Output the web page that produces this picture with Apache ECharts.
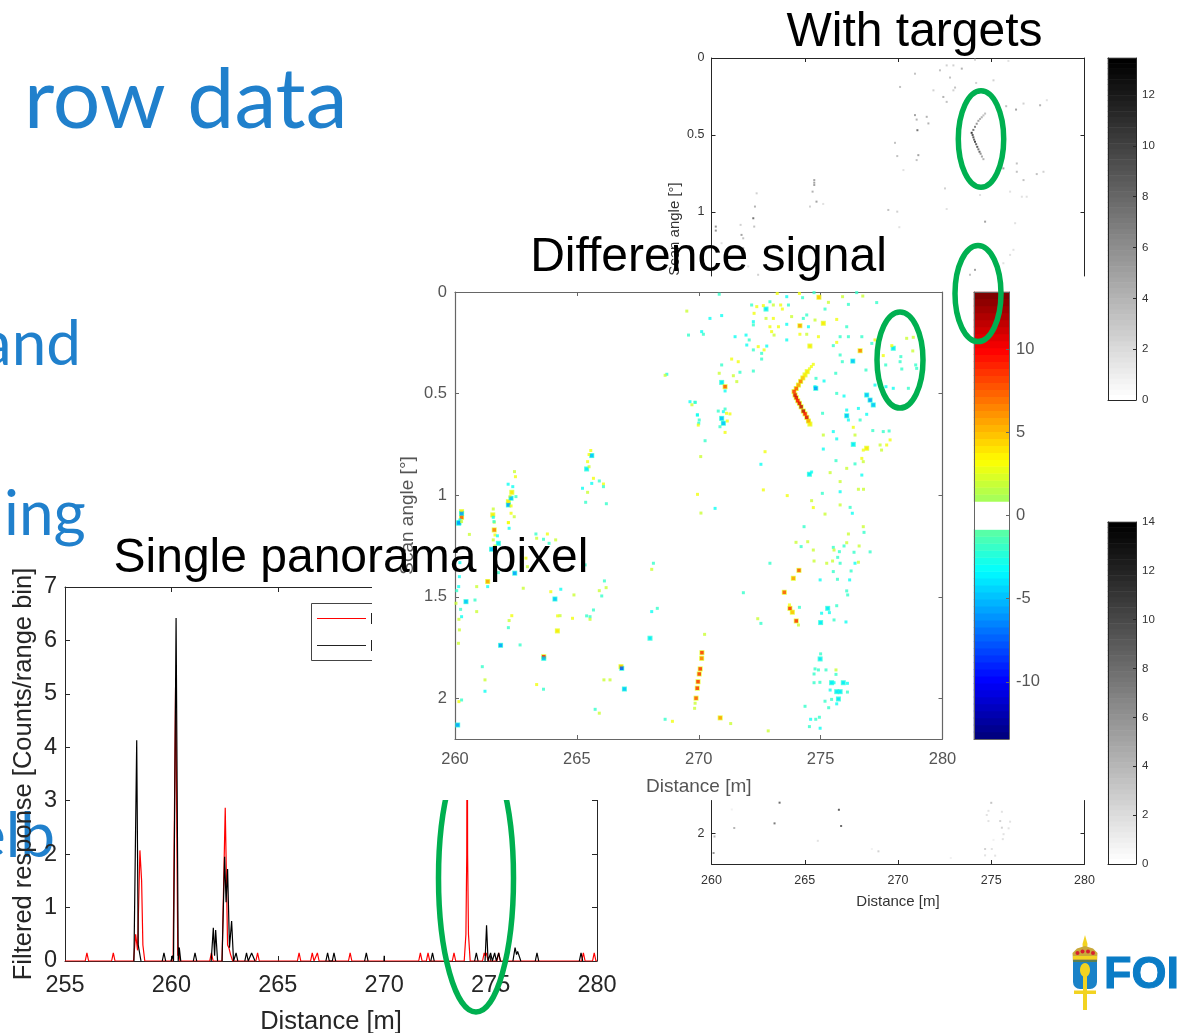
<!DOCTYPE html>
<html>
<head>
<meta charset="utf-8">
<style>html,body{margin:0;padding:0;background:#fff}#c{width:1181px;height:1033px}</style>
<script src="https://cdn.jsdelivr.net/npm/echarts@6/dist/echarts.min.js"></script>
</head>
<body>
<div id="c"></div>
<script>
// ---------- Data ----------
const lineTicksX = [255,260,265,270,275,280];
const panelDistanceRange = [260,280];
const diffAngleTicks = [0,0.5,1,1.5,2];
const withAngleTicks = [0,0.5,1];
const withoutAngleTicks = [2];
const diffBarTicks = [-10,-5,0,5,10];
const withBarTicks = [0,2,4,6,8,10,12];
const withoutBarTicks = [0,2,4,6,8,10,12,14];

const lineRed = [[255,0],[255.95,0],[256.03,.15],[256.11,0],[257.19,0],[257.27,.15],[257.35,0],[258.22,0],[258.32,.5],[258.41,.2],[258.46,.2],[258.52,2.07],[258.6,1.5],[258.66,.3],[258.75,0],[260.08,0],[260.2,5.3],[260.3,.1],[260.34,.25],[260.4,0],[261.8,0],[261.88,.15],[261.96,0],[262.38,0],[262.53,2.87],[262.58,2.87],[262.64,.3],[262.7,.25],[262.78,.12],[262.88,0],[263.97,0],[264.05,.15],[264.13,0],[265.92,0],[266,.15],[266.08,0],[266.54,0],[266.62,.15],[266.7,0],[266.78,0],[266.86,.15],[266.94,0],[268.32,0],[268.4,.15],[268.48,0],[271.62,0],[271.7,.15],[271.78,0],[271.98,0],[272.06,.15],[272.14,0],[273.2,0],[273.28,.15],[273.36,0],[273.76,0],[273.84,.5],[273.88,2],[273.9,6],[273.92,2],[273.96,.5],[274.04,0],[274.62,0],[274.7,.15],[274.75,.1],[274.8,.15],[274.88,0],[275.3,0],[275.38,.15],[275.46,0],[279.28,0],[279.36,.15],[279.44,0],[279.79,0],[279.87,.15],[279.95,0],[280,0]];
const lineBlack = [[258.24,0],[258.37,4.13],[258.44,.3],[258.5,.28],[258.57,0],[255,null],[259.57,0],[259.65,.15],[259.73,0],[255,null],[259.98,0],[260.05,.1],[260.1,0],[260.22,6.42],[260.32,0],[260.37,.25],[260.44,0],[255,null],[261.03,0],[261.11,.15],[261.19,0],[255,null],[261.87,0],[261.97,.62],[262.03,.1],[262.08,.58],[262.17,0],[255,null],[262.38,0],[262.5,1.95],[262.57,1.1],[262.64,1.72],[262.73,.25],[262.83,.75],[262.92,0],[262.96,0],[263.04,.15],[263.12,0],[255,null],[263.45,0],[263.53,.15],[263.61,0],[263.69,0],[263.77,.15],[263.85,.13],[263.93,0],[255,null],[267.26,0],[267.34,.15],[267.42,0],[267.56,0],[267.64,.15],[267.72,0],[255,null],[269.08,0],[269.16,.15],[269.24,0],[255,null],[269.99,0],[270,.1],[270.01,0],[255,null],[272.19,0],[272.27,.15],[272.35,0],[255,null],[274.25,0],[274.33,.15],[274.41,0],[255,null],[274.74,0],[274.81,.67],[274.88,0],[274.92,0],[275,.15],[275.08,0],[275.11,0],[275.19,.15],[275.27,0],[275.3,0],[275.38,.15],[275.46,0],[255,null],[276.05,0],[276.15,.25],[276.22,.12],[276.27,.18],[276.35,.15],[276.42,0],[255,null],[277.1,0],[277.18,.15],[277.26,0],[255,null],[279.17,0],[279.25,.15],[279.33,0]];

const diffPoints = [
[269.51,.094,2],[269.58,.212,-2],[268.69,.405,-2.5],[268.62,.41,2],[269.64,.54,-3],[269.85,.543,-2.5],[269.95,.605,-2.5],[270,.646,-2.5],[269.72,.555,2],
[265.57,.78,3],[265.5,.8,3],[265.61,.805,-5],[265.44,.835,3],[265.5,.86,2],[265.4,.871,-4],[265.23,.966,-3],[265.44,.986,2],[265.68,.917,3],[265.61,.942,-3],[265.92,.93,-2],[266.09,.945,3],[266.09,.958,-2],[265.36,1.035,-2],[266.21,1.042,-2],
[262.44,.884,2],[262.48,.909,3],[262.18,.946,-3],[262.37,.958,-3],[262.33,.986,4],[262.26,1.007,3],[262.5,1.007,-2],[262.19,1.032,4],[262.3,1.015,-5],[262.19,1.048,-6],[262.3,1.053,3],[262.3,1.089,3],[262.43,1.106,2],[262.19,1.135,3],
[261.57,1.068,2],[261.55,1.097,4],[261.57,1.109,-3],[261.61,1.133,2],[260.27,1.081,4],[260.27,1.109,8],[260.27,1.09,-6],[260.2,1.122,-3],[260.15,1.138,-5],
[260.16,1.135,-6],[260.27,1.13,2],[260.59,1.193,2],[261.6,1.13,-2],[261.61,1.171,7],[261.64,1.196,3],[261.74,1.2,-3],[261.57,1.22,2],[261.78,1.237,-4],[261.5,1.266,-5],[261.64,1.25,2],[262.19,1.135,3],[262.22,1.163,-3],
[262.91,1.31,3],[262.97,1.352,2],[263.32,1.191,-2],[263.79,1.191,3],[263.63,1.217,-2],[263.86,1.237,-2],[264.13,1.22,2],[263.35,1.212,2],[260.2,1.332,-3],[261.78,1.381,-2],[262.45,1.384,-6],[261.34,1.425,6],[261.34,1.45,-3],[260.89,1.45,2],[260.18,1.401,-3],[260.15,1.45,-3],[260.07,1.47,-2],[260.04,1.532,2],[260.45,1.524,-5],[260.82,1.516,-2],[260.23,1.562,-2],[260.89,1.573,2],[260.27,1.598,-3],[260.16,1.611,2],[260.18,1.663,2],[260.14,1.729,2],[262.8,1.458,2],[263.93,1.475,3],[264.34,1.463,-3],[264.1,1.511,-5],[264.88,1.491,2],[265.92,1.47,2],[266.02,1.496,-2],[266.13,1.422,-2],[266.2,1.455,2],[265.68,1.565,-2],[265.54,1.598,-2],[265.4,1.594,-2],[265.54,1.611,2],[264.21,1.594,3],[264.31,1.593,2],[264.82,1.606,3],[262.33,1.593,3],[262.22,1.617,2],[262.19,1.652,-2],[264.2,1.668,4],[261.87,1.739,-6],[262.67,1.737,-2],[263.64,1.795,9],[263.64,1.803,-5],[263.35,1.932,3],[263.63,1.955,-2],[261.12,1.844,-2],[261.23,1.909,2],[261.23,1.965,-3],[260.16,2.016,3],[260.27,2.008,-2],[260.11,2.131,-6],[266.81,1.844,5],[266.84,1.852,-8],[266.95,1.954,-5],[266.11,1.909,2],[266.36,1.909,2],[265.75,2.054,-2],[265.92,2.073,2],[268.07,1.365,2],[268.14,1.335,-2],[268.07,1.573,-3],[268.3,1.557,-2],[268,1.704,-4],[268.62,2.103,-2],[268.92,2.113,3],[265.34,1.343,-2],
[270.13,1.775,9],[270.12,1.803,7],[270.06,1.855,9],[270.02,1.88,9],[269.97,1.918,9],[269.94,1.95,9],[269.89,1.999,8],[269.85,2.024,2],[269.83,2.049,2],[270.24,1.685,2],[270.88,2.096,6],[271.31,2.124,2],[272.85,2.16,2],
[274.11,1.37,8],[273.88,1.409,6],[273.51,1.478,8],[273.74,1.557,9],[273.84,1.576,5],[274,1.619,9],[274.09,1.639,2],[273.72,1.54,3],[271.83,1.48,-2],[272.42,1.608,2],[272.55,1.631,-2],[272.92,1.335,-2],
[274.32,1.155,-2],[273.99,1.232,2],[274.47,1.229,2],[274.2,1.253,-2],[274.7,1.27,2],[274.73,1.324,2],[275.25,1.335,2],[275.49,1.324,2],[275.52,1.257,-2],[275.55,1.27,2],[275.77,1.278,-2],[275.8,1.335,-2],[275.7,1.306,-2],[276.14,1.191,2],[276.75,1.155,2],[276.78,1.183,-2],[276.07,1.234,2],[275.96,1.25,-2],[276.37,1.281,-2],[276.58,1.25,2],[277.03,1.279,-2],[276.41,1.335,-3],[276.55,1.33,2],[275.52,1.376,-2],[276.25,1.373,-2],[274.98,1.417,-3],[275.69,1.414,-2],[276.19,1.417,-3],[276.07,1.471,-2],[276.11,1.491,-2],[274.13,1.552,-2],[275.29,1.557,-4],[275.36,1.578,-3],[275.04,1.581,-3],[275.66,1.544,-2],[275,1.627,-4],[275.55,1.614,-2],[276.04,1.624,-3],[274.98,1.806,-4],[275,1.781,-2],[274.91,1.86,-2],[274.73,1.88,-2],[274.77,1.855,-2],[275.22,1.86,-2],[275.63,1.86,2],[275.63,1.882,-2],[274.73,1.923,-2],[274.97,1.921,-2],[275.45,1.923,-4],[275.55,1.923,-3],[275.93,1.923,-4],[276.1,1.926,-3],[275.39,1.959,-3],[275.66,1.967,-4],[275.8,1.967,-4],[276.1,1.969,-2],[275.73,2.003,-4],[275.66,2.027,-3],[275.45,2.005,-2],[275.18,2.014,-2],[275.33,2.046,-2],[274.36,2.039,-2],[274.59,2.103,-3],[274.95,2.093,-2],[274.8,2.103,-2],[274.54,2.139,-2],[274.98,2.147,-3],
[274.7,.356,3],[274.62,.367,3],[274.54,.378,3],[274.45,.392,4],[274.36,.408,4],[274.27,.423,5],[274.18,.44,7],[274.09,.458,6],[274,.475,8],[273.91,.49,9],[273.95,.507,11],[274,.52,11],[274.06,.535,10],[274.13,.548,11],[274.2,.565,12],[274.29,.586,12],[274.36,.6,10],[274.43,.617,11],[274.5,.635,6],[274.56,.65,4],
[273.22,.007,3],[273.61,.023,-3],[274.13,.007,3],[274.73,.003,-2],[274.93,.026,5],[274.26,.028,-2],[276.48,.003,-2],[275.9,.023,2],[276.73,.02,2],[277.3,.052,-2],[276.14,.061,-2],[275.32,.051,2],
[270.84,.011,-2],[270.46,.13,-3],[270.94,.116,-3],[270.12,.195,-3],[270.19,.208,-2],[271.49,.22,-3],
[272.17,.064,-2],[272.38,.072,3],[272.65,.067,3],[272.76,.084,-4],[272.92,.048,-2],[273.06,.064,2],[273.36,.064,3],[273.43,.084,3],[273.68,.064,-2],[272.27,.105,3],[272.76,.13,2],[272.24,.146,-3],[272.24,.162,-2],[273.06,.13,3],[272.92,.171,3],[273.27,.171,3],[272.99,.195,3],[273.09,.212,2],[273.81,.121,2],[273.61,.159,-3],[274.15,.166,6],[274.5,.171,-3],[274.29,.13,-2],[274.43,.113,-2],[274.77,.138,2],[275.11,.154,4],[275.18,.084,-2],[275.66,.135,3],[276.07,.171,-2],[276.14,.22,-2],[274.15,.208,3],[274.43,.208,2],[273.61,.236,-3],[274.91,.22,3],[275.8,.22,-2],[274.56,.266,4],[275.52,.264,-2],[275.66,.248,3],[276.69,.22,-2],[277.23,.236,3],[277.1,.253,-2],[271.94,.212,-3],[272.07,.236,-2],[271.97,.261,-3],[272.44,.269,3],[272.79,.266,-3],[272.68,.285,3],[272.58,.302,-2],[272.58,.33,-2],[272.24,.285,-2],
[277.98,.277,-4],[277.92,.264,3],[277.57,.313,3],[278.53,.228,2],[278.8,.223,2],[278.29,.318,-2],[278.26,.343,-2],[277.67,.359,-2],[278.33,.379,-2],[278.9,.359,-2],[278.94,.376,-2],[278.78,.29,2],[277.98,.474,-3],[278.6,.474,-2],[277.68,.466,-3],
[276.62,.289,7],[275.8,.31,-2],[276.32,.34,-5],[275.89,.343,-2],[276.86,.384,-2],[275.62,.4,-2],[274.81,.425,-2],[275.14,.438,-3],[274.77,.466,-3],[274.8,.474,-6],[275.66,.499,-2],[275.96,.512,-3],[276.89,.507,-5],[277.03,.532,-6],[277.16,.556,-5],[277.23,.458,-3],[276.07,.581,-3],[276.07,.609,-5],[276.14,.63,-3],[276.55,.573,-3],[276.89,.602,-3],[276.62,.63,-2],[275.08,.597,-2],[275.52,.687,-3],[275.66,.723,-3],[275.11,.704,2],[275.11,.773,-3],[276.34,.666,3],[276.41,.704,2],[276.34,.75,-4],[276.89,.769,4],[276.75,.778,3],[277.44,.753,2],[277.85,.728,3],[277.71,.753,3],[277.5,.778,2],[277.14,.682,-2],[277.57,.687,-2],[277.81,.684,-2],[276.69,.819,3],[276.75,.835,2],[276.07,.868,2],[276.41,.846,-2],[276.69,.901,-3],[275.63,.83,-2],[274.54,.897,-4],[274.63,.886,-3],[275.8,.933,2],[275.39,.889,2],[275.8,.983,-3],[275.07,.991,-2],[276.55,.971,2],[276.76,.971,2],[274.63,1.027,2],[274.7,1.061,3],[276.21,1.06,-2],[276.3,1.089,-3],[275.8,1.048,2],[275.18,1.093,2],
[270.94,.359,-2],[271.35,.33,3],[271.62,.343,3],[270.84,.4,2],[271.42,.412,2],[271.69,.395,-2],[270.94,.445,-4],[271.08,.466,8],[271.08,.487,-3],[271.56,.441,2],[272.24,.389,-2],
[271.01,.589,-3],[270.94,.622,-5],[271.14,.597,3],[271.28,.6,3],[271.17,.635,3],[271.08,.576,-2],[271.08,.691,3],[270.8,.586,-2],[271.01,.646,-5],[270.87,.663,-2],
[269.85,.543,-2],[269.94,.605,-3],[270.02,.63,-2],[269.98,.655,3],[270.26,.732,-2],[270.08,.81,2],[272.72,.786,3],[272.55,.848,-3],[269.95,.996,3],[272.65,.974,3],[273.63,1.002,3],[270.67,1.065,-3],[270.09,1.088,2]
];

const withPoints = [
[274.67,.361,4],[274.58,.373,4],[274.49,.385,5],[274.4,.396,5],[274.31,.408,6],[274.22,.427,7],[274.13,.447,8],[274.04,.467,9],[273.95,.486,13],[274,.5,11],[274.04,.515,11],[274.08,.53,10],[274.13,.544,12],[274.19,.56,10],[274.25,.577,11],[274.31,.593,9],[274.37,.609,10],[274.43,.622,7],[274.5,.64,6],[274.58,.657,5],
[272.25,.08,4],[273.42,.069,5],[272.97,.048,3],[272.61,.048,3],[274.13,.011,3],[275.92,.019,2],[270.91,.102,4],[270.11,.188,4],[272.79,.127,4],[273.06,.192,4],[272.97,.21,3],[274.19,.162,3],[275.12,.145,3],[271.9,.21,3],[272.43,.253,5],[272.61,.285,4],[276.73,.296,3],[277.62,.307,5],[277.98,.274,2],[276.33,.335,6],[275.8,.313,4],[270.91,.371,6],[271,.4,5],[271.54,.382,5],[271.63,.425,5],[271.04,.469,9],[269.84,.551,4],[269.96,.637,4],[271.09,.631,6],[271,.663,4],[270.29,.728,2],[276.37,.685,4],[275.65,.717,6],[276.37,.739,4],[277.44,.754,4],[277.8,.739,3],[276.73,.793,4],[276.64,.901,2],[276.9,.901,2],[276.01,.868,2],[272.52,.847,3],[274.4,.89,2],[269.48,.987,4],[269.96,.998,3],[272.61,.981,2],[274.67,1.063,6],[276.28,1.073,2],[270.07,1.099,2],
[265.51,.793,6],[265.51,.81,6],[265.51,.825,6],[265.42,.868,5],[265.63,.933,6],[265.28,.965,3],[265.99,.948,2],[262.42,.879,3],[262.33,.965,5],[262.24,1.041,9],[262.29,1.095,4],[261.56,1.084,3],[261.61,1.149,6],[261.7,1.171,4],[260.23,1.095,7],[260.23,1.121,7],[261.7,1.235,4],[260.54,1.203,2],[276.19,1.246,2],[276.01,1.279,2],[274.13,1.376,6],[273.86,1.408,4],[275.65,1.333,2],[261.97,1.354,2],[262.5,1.408,3]
];

const withoutPoints = [
[263.65,1.8,10],[266.83,1.846,11],[263.38,1.934,9],[266.95,1.951,10],[261.22,1.964,5],[260.16,2.019,5],[260.11,2.126,7],[265.7,2.047,2],[268.95,2.115,3],[268.6,2.1,1],[272.83,2.158,1],[261.09,1.844,1],
[275,1.801,4],[274.85,1.853,2],[275.57,1.859,2],[274.76,1.88,2],[275.48,1.919,3],[276.01,1.923,2],[274.85,1.919,2],[275.57,1.962,3],[275.93,1.966,2],[275.66,2.004,2],[275.62,2.036,2],[275.12,2.041,1],[274.67,2.1,3],[275.03,2.1,2],[274.67,2.141,2],[275.21,2.143,2]
];

// ---------- Colour scales ----------
const LEVELS = 64;
function jet(t){
  const c = v => Math.round(255*Math.max(0,Math.min(1,v)));
  const r = 1.5-Math.abs(4*t-3), g = 1.5-Math.abs(4*t-2), b = 1.5-Math.abs(4*t-1);
  return `rgb(${c(r)},${c(g)},${c(b)})`;
}
const jetColors = Array.from({length:LEVELS},(_,i)=> (i>=30&&i<=33)?'#ffffff':jet(i/(LEVELS-1)));
const DIFF_MAX=13.44, WITH_MAX=13.46, WITHOUT_MAX=14;
const levelValues = (lo,hi)=>Array.from({length:LEVELS},(_,i)=>lo+(hi-lo)*i/(LEVELS-1));

// ---------- Builders ----------
const SANS='"Liberation Sans", Arial, sans-serif';
const grids=[], xAxes=[], yAxes=[], series=[];
function axisBase(o){
  return {
    type:'value', z:o.z, min:o.min, max:o.max, position:o.position, inverse:!!o.inverse,
    splitLine:{show:false}, name:o.name||'', nameLocation:'middle', nameGap:o.nameGap||0,
    nameTextStyle:{color:o.nameColor||o.textColor,fontSize:o.nameSize||o.fontSize,fontFamily:SANS},
    axisLine:{show:true,onZero:false,lineStyle:{color:o.lineColor,width:o.lineWidth||1}},
    axisTick:{show:o.tickLen>0,inside:true,length:o.tickLen,lineStyle:{color:o.lineColor},customValues:o.ticks},
    axisLabel:{show:!!o.labels,color:o.textColor,fontSize:o.fontSize,fontFamily:SANS,margin:o.margin||6,customValues:o.ticks,hideOverlap:false,showMinLabel:true,showMaxLabel:true,padding:o.padTop?[o.padTop,0,0,0]:0},
    interval:o.interval
  };
}
function addX(o){xAxes.push(Object.assign(axisBase(o),{gridIndex:o.grid}));return xAxes.length-1;}
function addY(o){yAxes.push(Object.assign(axisBase(o),{gridIndex:o.grid}));return yAxes.length-1;}
function addGrid(l,t,r,b){grids.push({left:l,top:t,width:r-l,height:b-t,containLabel:false,outerBoundsMode:'none'});return grids.length-1;}
function colorbar(rect,hi,lo,ticks,z,style){
  const g=addGrid(rect[0],rect[1],rect[2],rect[3]);
  const values=levelValues(lo,hi);
  const cat=(pos)=>({type:'category',gridIndex:g,position:pos,boundaryGap:true,z:z+1,data:pos==='left'?values.map((_,i)=>String(i)):['c'],
    axisLine:{show:true,onZero:false,lineStyle:{color:style.line}},axisTick:{show:false},axisLabel:{show:false},splitLine:{show:false}});
  xAxes.push(cat('bottom')); const xi=xAxes.length-1;
  yAxes.push(cat('left')); const yi=yAxes.length-1;
  addX({grid:g,position:'top',min:0,max:1,z:z+1,lineColor:style.line,tickLen:0,textColor:style.text,fontSize:style.size});
  addY({grid:g,position:'right',min:lo,max:hi,ticks:ticks,labels:true,z:z+1,lineColor:style.line,tickLen:style.tick,textColor:style.text,fontSize:style.size,margin:style.margin,padTop:4});
  series.push({type:'heatmap',xAxisIndex:xi,yAxisIndex:yi,z:z,data:values.map((v,i)=>[0,i,v]),itemStyle:{borderWidth:0},emphasis:{disabled:true},silent:true,progressive:0,animation:false});
  return series.length-1;
}

// --- Single panorama pixel (line chart)
const gLine=addGrid(65,587,597,961);
const LZ=3, lineStyleTxt={z:LZ,lineColor:'#262626',textColor:'#262626',fontSize:23.5,tickLen:5,nameSize:25.5};
const xl=addX(Object.assign({grid:gLine,position:'bottom',min:255,max:280,interval:5,labels:true,margin:13,name:'Distance [m]',nameGap:48},lineStyleTxt));
addX(Object.assign({grid:gLine,position:'top',min:255,max:280,interval:5},lineStyleTxt));
const yl=addY(Object.assign({grid:gLine,position:'left',min:0,max:7,interval:1,labels:true,margin:8,padTop:5,name:'Filtered response [Counts/range bin]',nameGap:28},lineStyleTxt));
addY(Object.assign({grid:gLine,position:'right',min:0,max:7,interval:1},lineStyleTxt));
series.push({type:'line',name:'Red',xAxisIndex:xl,yAxisIndex:yl,z:LZ,data:lineRed,symbol:'none',lineStyle:{color:'#ff0000',width:1.2},itemStyle:{color:'#ff0000'},clip:true,silent:true,animation:false});
series.push({type:'line',name:'Black',xAxisIndex:xl,yAxisIndex:yl,z:LZ,data:lineBlack,symbol:'none',connectNulls:false,lineStyle:{color:'#000',width:1.2},itemStyle:{color:'#000'},clip:true,silent:true,animation:false});

// --- With targets (upper grey panel, hidden below the difference figure)
const grayTxt={z:2,lineColor:'#262626',textColor:'#333',fontSize:12.5,tickLen:4};
const gTop=addGrid(711.5,58,1084.5,276);
const xt=addX(Object.assign({grid:gTop,position:'top',min:panelDistanceRange[0],max:panelDistanceRange[1],interval:5},grayTxt));
const yt=addY(Object.assign({grid:gTop,position:'left',min:0,max:1.416,inverse:true,ticks:withAngleTicks,labels:true,margin:7,padTop:4},grayTxt));
addY(Object.assign({grid:gTop,position:'right',min:0,max:1.416,inverse:true,ticks:withAngleTicks},grayTxt));
const sWith=series.length;
series.push({type:'scatter',xAxisIndex:xt,yAxisIndex:yt,z:2,data:withPoints,symbol:'rect',symbolSize:2,clip:true,silent:true,animation:false});

// --- Without targets (lower grey panel)
const gBot=addGrid(711.5,800.5,1084.5,864);
const xb=addX(Object.assign({grid:gBot,position:'bottom',min:panelDistanceRange[0],max:panelDistanceRange[1],interval:5,labels:true,margin:10,name:'Distance [m]',nameGap:30,nameSize:15},grayTxt));
const yb=addY(Object.assign({grid:gBot,position:'left',min:1.786,max:2.197,inverse:true,ticks:withoutAngleTicks,labels:true,margin:7,padTop:4},grayTxt));
addY(Object.assign({grid:gBot,position:'right',min:1.786,max:2.197,inverse:true,ticks:withoutAngleTicks},grayTxt));
const sWithout=series.length;
series.push({type:'scatter',xAxisIndex:xb,yAxisIndex:yb,z:2,data:withoutPoints,symbol:'rect',symbolSize:2,clip:true,silent:true,animation:false});

// --- Difference signal (middle panel)
const MZ=6, midTxt={z:MZ,lineColor:'#666',textColor:'#555',fontSize:16.5,tickLen:4,lineWidth:1.2};
const gMid=addGrid(455,292,942.5,739);
const xm=addX(Object.assign({grid:gMid,position:'bottom',min:260,max:280,interval:5,labels:true,margin:12,name:'Distance [m]',nameGap:38,nameSize:19},midTxt));
addX(Object.assign({grid:gMid,position:'top',min:260,max:280,interval:5},midTxt));
const ym=addY(Object.assign({grid:gMid,position:'left',min:0,max:2.2,inverse:true,ticks:diffAngleTicks,labels:true,margin:8,padTop:4,name:'Scan angle [\u00b0]',nameGap:38,nameSize:19},midTxt));
addY(Object.assign({grid:gMid,position:'right',min:0,max:2.2,inverse:true,ticks:diffAngleTicks},midTxt));
// a soft halo of the same colour family under the stronger cells, as in the smoothed image
const sHalo=series.length;
series.push({type:'scatter',xAxisIndex:xm,yAxisIndex:ym,z:MZ,data:diffPoints.filter(p=>Math.abs(p[2])>=4).map(p=>[p[0],p[1],p[2]>0?2.6:-2.4]),symbol:'rect',symbolSize:5,clip:true,silent:true,animation:false});
const sDiff=series.length;
series.push({type:'scatter',xAxisIndex:xm,yAxisIndex:ym,z:MZ,data:diffPoints,symbol:'rect',symbolSize:v=>Math.abs(v[2])>=5?3.5:3,clip:true,silent:true,animation:false});

// --- Colour bars
const barDiff=colorbar([974,292,1009,739],DIFF_MAX,-DIFF_MAX,diffBarTicks,MZ,{line:'#666',text:'#555',size:16.5,tick:3,margin:7});
const graySt={line:'#262626',text:'#333',size:11.5,tick:3,margin:6};
const barWith=colorbar([1108,58,1136,400],WITH_MAX,0,withBarTicks,2,graySt);
const barWithout=colorbar([1108,522,1136,864],WITHOUT_MAX,0,withoutBarTicks,2,graySt);

const visualMaps=[
 {type:'continuous',show:false,min:-DIFF_MAX,max:DIFF_MAX,dimension:2,seriesIndex:[sHalo,sDiff,barDiff],inRange:{color:jetColors}},
 {type:'continuous',show:false,min:0,max:WITH_MAX,dimension:2,seriesIndex:[sWith,barWith],inRange:{color:['#ffffff','#000000']}},
 {type:'continuous',show:false,min:0,max:WITHOUT_MAX,dimension:2,seriesIndex:[sWithout,barWithout],inRange:{color:['#ffffff','#000000']}}
];

// ---------- Slide furniture ----------
const BLUE='#2080CC', GREEN='#00B050';
const slideText=(text,x,y,size,align)=>({type:'text',z:1,silent:true,style:{text,x,y,fill:BLUE,font:`${size}px Lato, sans-serif`,textAlign:align,textVerticalAlign:'middle'}});
const ring=(cx,cy,rx,ry,z)=>({type:'ellipse',z,silent:true,shape:{cx,cy,rx,ry},style:{fill:'none',stroke:GREEN,lineWidth:5.5}});
const title=(text,x,y)=>({type:'text',z:9,silent:true,style:{text,x,y,fill:'#000',font:`48px ${SANS}`,textAlign:'center',textVerticalAlign:'middle'}});
const seg=(x1,y1,x2,y2,color,z)=>({type:'line',z,silent:true,shape:{x1,y1,x2,y2},style:{stroke:color,lineWidth:1}});
const R=(x,y,width,height,fill,z,r)=>({type:'rect',z,silent:true,shape:{x,y,width,height,r:r||0},style:{fill}});
const Y='#F2D321';
const graphics=[
 slideText('row data',24,101,84,'left'),
 slideText('and',81,345,62,'right'),
 slideText('ing',4,515,62,'left'),
 slideText('elb',55,837,62,'right'),
 // legend box of the line chart
 R(311.5,603.5,70,57,'#fff',3),
 seg(311.5,603.5,372,603.5,'#444',3), seg(311.5,603.5,311.5,660.5,'#444',3), seg(311.5,660.5,372,660.5,'#444',3),
 seg(317,618.5,366,618.5,'#ff0000',3), seg(317,645.5,366,645.5,'#222',3),
 seg(371.5,613,371.5,624,'#222',3), seg(371.5,640,371.5,651,'#222',3),
 // the ring of the line chart goes under the difference figure
 ring(476,878,37.5,134,4),
 // white background of the difference figure
 R(372,540,250,260,'#fff',5),
 // angle label of the upper grey panel
 {type:'text',z:2,silent:true,x:675,y:229,rotation:Math.PI/2,style:{text:'Scan angle [\u00b0]',fill:'#333',font:`15px ${SANS}`,textAlign:'center',textVerticalAlign:'middle'}},
 title('With targets',914.5,33),
 title('Difference signal',708.5,258),
 title('Single panorama pixel',351,559),
 ring(981,139,22.7,48.3,8), ring(978,293.5,23,48,8), ring(900,360,23,48,8),
 // FOI logo
 {type:'polygon',z:8,silent:true,shape:{points:[[1085,935],[1087.5,944],[1087,950],[1083,950],[1082.5,944]]},style:{fill:Y}},
 {type:'polygon',z:8,silent:true,shape:{points:[[1073,962],[1072.5,953],[1077,948.5],[1085,946],[1093,948.5],[1097.5,953],[1097,962]]},style:{fill:'#C9A93A'}},
 {type:'circle',z:8,silent:true,shape:{cx:1077.5,cy:953,r:2},style:{fill:'#D8202C'}},
 {type:'circle',z:8,silent:true,shape:{cx:1082.5,cy:951.5,r:2},style:{fill:'#D8202C'}},
 {type:'circle',z:8,silent:true,shape:{cx:1088,cy:951.5,r:2},style:{fill:'#D8202C'}},
 {type:'circle',z:8,silent:true,shape:{cx:1093,cy:953,r:2},style:{fill:'#D8202C'}},
 R(1073,956,24,3,Y,8),
 R(1073,960,24,2,'#5D7F4E',8),
 R(1073,962,24,27,'#1A82C8',8,[0,0,7,7]),
 R(1083,972,4,38,Y,8),
 {type:'ellipse',z:8,silent:true,shape:{cx:1085,cy:970,rx:5,ry:7},style:{fill:Y}},
 R(1074,990.5,22,3.5,Y,8),
 {type:'text',z:8,silent:true,style:{text:'FOI',x:1104,y:976,fill:'#0A7CC6',stroke:'#0A7CC6',lineWidth:1,font:`bold 45px ${SANS}`,textAlign:'left',textVerticalAlign:'middle'}}
];

const chart=echarts.init(document.getElementById('c'),null,{renderer:'canvas',width:1181,height:1033});
chart.setOption({
  animation:false,backgroundColor:'#fff',tooltip:{show:false},
  grid:grids,xAxis:xAxes,yAxis:yAxes,visualMap:visualMaps,series:series,
  graphic:{elements:graphics}
});
</script>
</body>
</html>
